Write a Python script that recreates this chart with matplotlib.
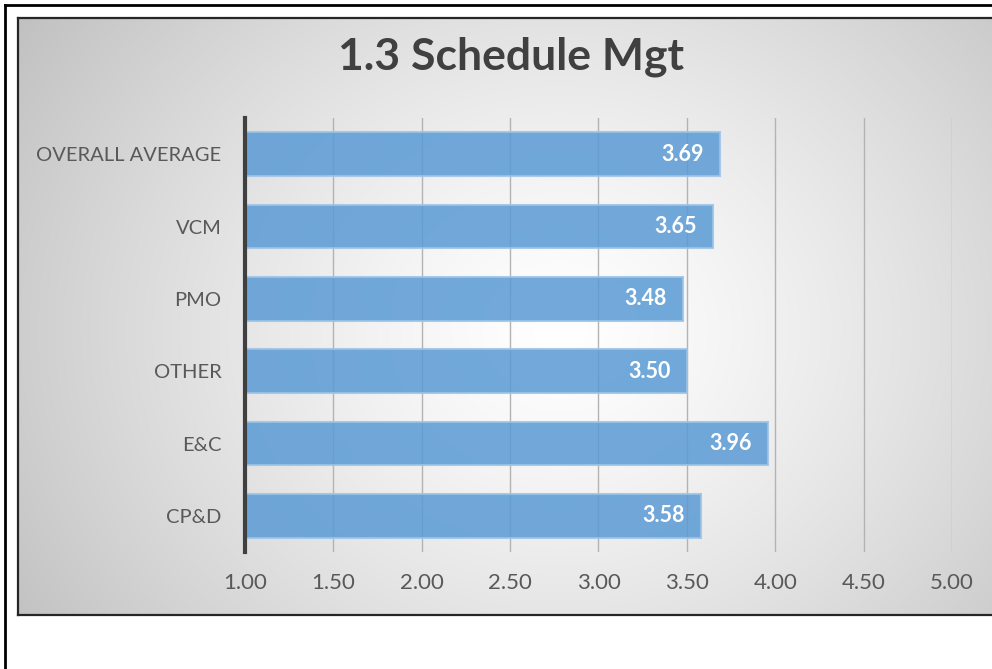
import numpy as np
import matplotlib
matplotlib.use("Agg")
import matplotlib.pyplot as plt
from matplotlib.lines import Line2D

categories = ["CP&D", "E&C", "OTHER", "PMO", "VCM", "OVERALL AVERAGE"]
scores = [3.58, 3.96, 3.50, 3.48, 3.65, 3.69]
xticks = [1.0, 1.5, 2.0, 2.5, 3.0, 3.5, 4.0, 4.5, 5.0]

plt.rcParams['font.family'] = ['Lato', 'DejaVu Sans']
W, H = 992, 669
fig = plt.figure(figsize=(W / 100, H / 100), dpi=100)
fig.patch.set_facecolor('white')

# chart area with radial grey gradient
bx0, by0, bx1, by1 = 18, 18, 1000, 615
bg = fig.add_axes([bx0 / W, 1 - by1 / H, (bx1 - bx0) / W, (by1 - by0) / H], zorder=0)
yy, xx = np.mgrid[by0:by1, bx0:bx1]
r = np.hypot(xx - 560, (yy - 330) * 1.15) / 640
g = np.clip(1 - 0.24 * r ** 1.3, 0.72, 1)
bg.imshow(np.dstack([g, g, g]), aspect='auto', extent=[0, 1, 0, 1])
bg.set_xticks([])
bg.set_yticks([])
for s in ['left', 'top', 'bottom']:
    bg.spines[s].set_color('#262626')
    bg.spines[s].set_linewidth(1.6)
bg.spines['right'].set_visible(False)

# outer frame
fig.add_artist(Line2D([5 / W, 5 / W], [0, 1 - 5 / H], color='black', lw=2))
fig.add_artist(Line2D([5 / W, 1], [1 - 5 / H, 1 - 5 / H], color='black', lw=2))

ax = fig.add_axes([245 / W, 1 - 552 / H, (952 - 245) / W, (552 - 118) / H], zorder=1)
ax.patch.set_alpha(0)
y = np.arange(len(categories))
ax.barh(y, [v - 1 for v in scores], left=1, height=0.6, color='#5B9BD5', alpha=0.86,
        edgecolor='#9cc3e6', linewidth=1.5, zorder=3)
for yi, v in zip(y, scores):
    ax.annotate(f"{v:.2f}", (v, yi), xytext=(-12, 0), textcoords='offset points',
                ha='right', va='center', color='white', fontsize=15.5, fontweight='bold', zorder=4)

ax.set_xlim(1, 5)
ax.set_ylim(-0.5, 5.5)
ax.set_xticks(xticks)
ax.set_xticklabels([f"{t:.2f}" for t in xticks])
ax.set_yticks(y)
ax.set_yticklabels(categories)
ax.tick_params(axis='both', length=0, colors='#595959')
ax.tick_params(axis='y', pad=17, labelsize=14.5)
ax.tick_params(axis='x', pad=15, labelsize=16)
ax.grid(axis='x', color='#b3b3b3', lw=1, zorder=1)
ax.set_axisbelow(True)
for s in ['top', 'right', 'bottom']:
    ax.spines[s].set_visible(False)
ax.spines['left'].set_color('#404040')
ax.spines['left'].set_linewidth(3)
ax.spines['left'].set_zorder(5)

fig.text(511 / W, 1 - 57 / H, "1.3 Schedule Mgt", ha='center', va='center',
         fontsize=32, fontweight='bold', color='#404040')

fig.savefig("out.png", dpi=100)
